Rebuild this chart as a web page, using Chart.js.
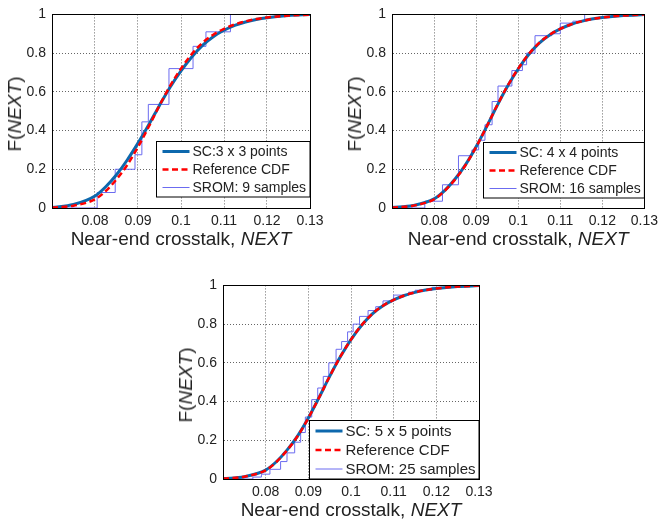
<!DOCTYPE html>
<html>
<head>
<meta charset="utf-8">
<script src="https://cdn.jsdelivr.net/npm/chart.js@4.4.1/dist/chart.umd.min.js"></script>
<style>
body { margin: 0; background: #fff; }
#page { position: relative; width: 663px; height: 520px; overflow: hidden; font-family: "Liberation Sans", Arial, sans-serif; color: #222; }
.panel { position: absolute; }
.panel canvas { position: absolute; left: 0; top: 0; }
.xtitle, .ytitle { position: absolute; font-size: 19px; line-height: 20px; white-space: nowrap; }
.xtitle { text-align: center; }
.ytitle { transform: translate(-50%, -50%) rotate(-90deg); }
</style>
</head>
<body>
<div id="page"></div>
<script>
// axis ticks
var xTicks = [0.07, 0.08, 0.09, 0.10, 0.11, 0.12, 0.13];
var xTickLabels = ['', '0.08', '0.09', '0.1', '0.11', '0.12', '0.13'];
var yTicks = [0, 0.2, 0.4, 0.6, 0.8, 1];
var yTickLabels = ['0', '0.2', '0.4', '0.6', '0.8', '1'];

// smooth CDF curves
var cdfX   = [0.07, 0.075, 0.08, 0.0825, 0.085, 0.0875, 0.09, 0.0925, 0.095, 0.0975, 0.1, 0.1025, 0.105, 0.1075, 0.11, 0.1125, 0.115, 0.1175, 0.12, 0.125, 0.13];
var refCdf = [0.002, 0.012, 0.045, 0.088, 0.148, 0.222, 0.315, 0.42, 0.53, 0.632, 0.72, 0.795, 0.853, 0.895, 0.925, 0.948, 0.964, 0.976, 0.984, 0.994, 0.999];
var sc3Cdf = [0.003, 0.018, 0.062, 0.11, 0.172, 0.248, 0.335, 0.43, 0.53, 0.625, 0.708, 0.78, 0.84, 0.885, 0.918, 0.943, 0.961, 0.974, 0.983, 0.994, 0.999];
var sc4Cdf = [0.002, 0.013, 0.047, 0.09, 0.15, 0.224, 0.316, 0.42, 0.529, 0.63, 0.718, 0.793, 0.852, 0.894, 0.925, 0.948, 0.964, 0.976, 0.984, 0.994, 0.999];
var sc5Cdf = [0.002, 0.012, 0.046, 0.089, 0.149, 0.223, 0.315, 0.42, 0.53, 0.631, 0.72, 0.794, 0.853, 0.895, 0.925, 0.948, 0.964, 0.976, 0.984, 0.994, 0.999];

// SROM step functions: sample location and CDF level after the jump
var srom9X  = [0.0805, 0.0847, 0.0893, 0.0909, 0.0924, 0.0972, 0.1028, 0.1058, 0.1115];
var srom9P  = [0.08, 0.20, 0.275, 0.445, 0.535, 0.72, 0.835, 0.91, 1.0];
var srom16X = [0.0778, 0.0820, 0.0858, 0.0890, 0.0906, 0.0921, 0.0938, 0.0952, 0.0985, 0.1010, 0.1020, 0.1040, 0.1080, 0.1100, 0.1130, 0.1158];
var srom16P = [0.035, 0.12, 0.27, 0.30, 0.35, 0.43, 0.55, 0.63, 0.71, 0.74, 0.80, 0.89, 0.90, 0.955, 0.965, 1.0];
var srom25X = [0.0770, 0.0790, 0.0810, 0.0835, 0.0850, 0.0868, 0.0882, 0.0893, 0.0908, 0.0922, 0.0935, 0.0948, 0.0965, 0.0978, 0.0992, 0.1005, 0.1020, 0.1040, 0.1058, 0.1075, 0.1100, 0.1135, 0.1150, 0.1190, 0.1230];
var srom25P = [0.01, 0.025, 0.05, 0.09, 0.135, 0.19, 0.24, 0.32, 0.41, 0.47, 0.53, 0.60, 0.67, 0.71, 0.76, 0.80, 0.84, 0.87, 0.89, 0.92, 0.95, 0.965, 0.975, 0.99, 1.0];

var scLabels = ['SC:3 x 3 points', 'SC: 4 x 4 points', 'SC: 5 x 5 points'];
var refLabel = 'Reference CDF';
var sromLabels = ['SROM: 9 samples', 'SROM: 16 samples', 'SROM: 25 samples'];

var FONT = '"Liberation Sans", Arial, sans-serif';
Chart.defaults.font.family = FONT;
Chart.defaults.color = '#222';

function xy(xs, ys) {
    return xs.map(function (x, i) { return {x: x, y: ys[i]}; });
}
function steps(xs, ps) {
    return [{x: xTicks[0], y: 0}].concat(xy(xs, ps), [{x: xTicks[xTicks.length - 1], y: 1}]);
}

// legend box in the lower right corner of the plot
var boxLegend = {
    id: 'boxLegend',
    afterDatasetsDraw: function (chart, args, opts) {
        var ctx = chart.ctx, a = chart.chartArea, sets = chart.data.datasets;
        ctx.save();
        ctx.font = opts.size + 'px ' + FONT;
        var w = 0;
        sets.forEach(function (d) { w = Math.max(w, ctx.measureText(d.label).width); });
        var lineLen = 27;
        var bw = 6 + lineLen + 3 + w + 4;
        var bh = sets.length * opts.row + 2;
        var right = a.right, bottom = a.bottom - opts.gap;
        var left = Math.round(right - bw) + 0.5, top = Math.round(bottom - bh) + 0.5;
        ctx.fillStyle = '#fff';
        ctx.fillRect(left, top, right - left, bottom - top);
        ctx.strokeStyle = '#000';
        ctx.lineWidth = 1;
        ctx.strokeRect(left, top, right - left, bottom - top);
        sets.forEach(function (d, i) {
            var cy = top + 1 + opts.row / 2 + i * opts.row;
            ctx.beginPath();
            ctx.strokeStyle = d.borderColor;
            ctx.lineWidth = d.borderWidth;
            ctx.setLineDash(d.borderDash || []);
            ctx.moveTo(left + 6, cy);
            ctx.lineTo(left + 6 + lineLen, cy);
            ctx.stroke();
            ctx.setLineDash([]);
            ctx.fillStyle = '#222';
            ctx.textBaseline = 'middle';
            ctx.fillText(d.label, left + 6 + lineLen + 3, cy + 1);
        });
        ctx.restore();
    }
};

// black box around the plot area
var frame = {
    id: 'frame',
    afterDraw: function (chart) {
        var ctx = chart.ctx, a = chart.chartArea;
        ctx.save();
        ctx.strokeStyle = '#000';
        ctx.lineWidth = 1;
        ctx.strokeRect(Math.round(a.left) + 0.5, Math.round(a.top) + 0.5, Math.round(a.right - a.left), Math.round(a.bottom - a.top));
        ctx.restore();
    }
};

var panels = [
    {left: 0, top: 0, width: 340, padRight: 30, sc: sc3Cdf, sx: srom9X, sp: srom9P, n: 0, legend: {size: 14, row: 18, gap: 11}},
    {left: 340, top: 0, width: 323, padRight: 15, sc: sc4Cdf, sx: srom16X, sp: srom16P, n: 1, legend: {size: 14, row: 18, gap: 10}},
    {left: 171, top: 271, width: 340, padRight: 32, sc: sc5Cdf, sx: srom25X, sp: srom25P, n: 2, legend: {size: 15, row: 19, gap: 0}}
];

var page = document.getElementById('page');

panels.forEach(function (p) {
    var div = document.createElement('div');
    div.className = 'panel';
    div.style.left = p.left + 'px';
    div.style.top = p.top + 'px';
    div.style.width = p.width + 'px';
    div.style.height = '230px';
    var canvas = document.createElement('canvas');
    canvas.width = p.width;
    canvas.height = 230;
    div.appendChild(canvas);
    page.appendChild(div);

    var chart = new Chart(canvas, {
        type: 'line',
        data: {
            datasets: [{
                label: scLabels[p.n],
                data: xy(cdfX, p.sc),
                borderColor: '#0d68ad',
                borderWidth: 3,
                cubicInterpolationMode: 'monotone',
                pointRadius: 0,
                order: 1
            }, {
                label: refLabel,
                data: xy(cdfX, refCdf),
                borderColor: '#ff0000',
                borderWidth: 2.5,
                borderDash: [6, 3.5],
                cubicInterpolationMode: 'monotone',
                pointRadius: 0,
                order: 0
            }, {
                label: sromLabels[p.n],
                data: steps(p.sx, p.sp),
                borderColor: '#6b6bf0',
                borderWidth: 1,
                stepped: 'before',
                pointRadius: 0,
                order: 2
            }]
        },
        options: {
            responsive: false,
            animation: false,
            layout: {padding: {left: 12, right: p.padRight, top: 14, bottom: 0}},
            plugins: {
                legend: {display: false},
                tooltip: {enabled: false},
                boxLegend: p.legend
            },
            scales: {
                x: {
                    type: 'linear',
                    min: xTicks[0],
                    max: xTicks[xTicks.length - 1],
                    afterBuildTicks: function (s) { s.ticks = xTicks.map(function (v) { return {value: v}; }); },
                    afterFit: function (s) { s.height = 22; },
                    ticks: {
                        autoSkip: false,
                        maxRotation: 0,
                        padding: 5,
                        color: '#222',
                        font: {size: 14},
                        callback: function (v, i) { return xTickLabels[i]; }
                    },
                    grid: {color: '#666', lineWidth: 1, drawTicks: false},
                    border: {color: '#000', dash: [1, 2]}
                },
                y: {
                    min: yTicks[0],
                    max: yTicks[yTicks.length - 1],
                    afterBuildTicks: function (s) { s.ticks = yTicks.map(function (v) { return {value: v}; }); },
                    afterFit: function (s) { s.width = 40; },
                    ticks: {
                        autoSkip: false,
                        padding: 6,
                        color: '#222',
                        font: {size: 14},
                        callback: function (v, i) { return yTickLabels[i]; }
                    },
                    grid: {color: '#666', lineWidth: 1, drawTicks: false},
                    border: {color: '#000', dash: [1, 2]}
                }
            }
        },
        plugins: [boxLegend, frame]
    });

    var a = chart.chartArea;
    var xt = document.createElement('div');
    xt.className = 'xtitle';
    xt.style.left = a.left + 'px';
    xt.style.width = (a.right - a.left) + 'px';
    xt.style.top = (a.bottom + 21) + 'px';
    xt.innerHTML = 'Near-end crosstalk, <i>NEXT</i>';
    div.appendChild(xt);

    var yt = document.createElement('div');
    yt.className = 'ytitle';
    yt.style.left = (a.left - 37) + 'px';
    yt.style.top = ((a.top + a.bottom) / 2 + 3) + 'px';
    yt.innerHTML = 'F(<i>NEXT</i>)';
    div.appendChild(yt);
});
</script>
</body>
</html>
